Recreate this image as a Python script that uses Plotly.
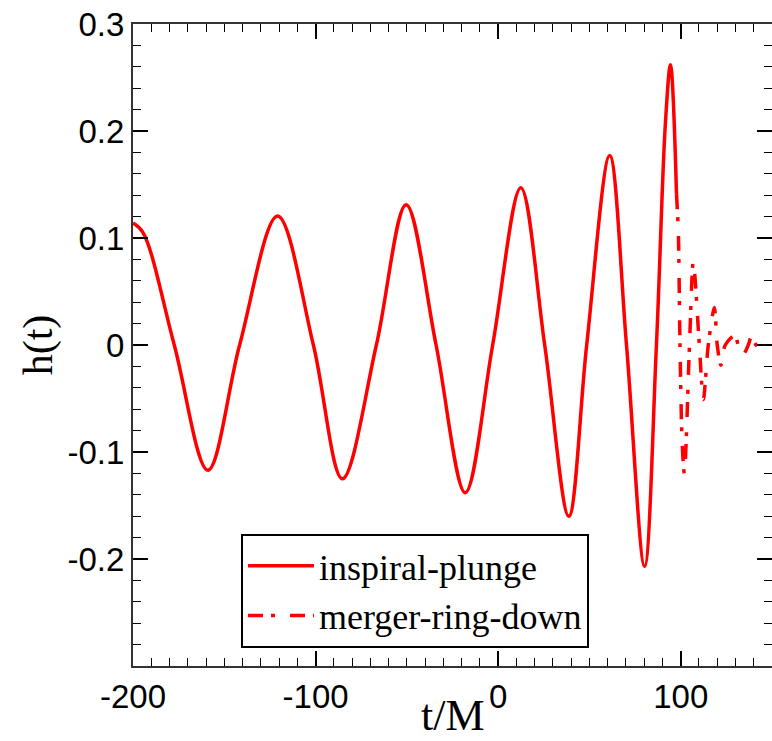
import plotly.graph_objects as go

# inspiral-plunge waveform (extrema and zero crossings)
t_inspiral = [-200, -194.5, -177.4, -159, -141.6, -120.8, -101.2, -85.3, -66.7,
              -50.4, -34, -18, -3, 12.4, 25.5, 38.7, 48.5, 61.1, 70.3, 80.2, 86.7,
              91.6, 94.4, 97.7]
h_inspiral = [0.114, 0.105, 0.0, -0.117, 0.0, 0.1206, 0.0, -0.125, 0.0,
              0.131, 0.0, -0.138, 0.0, 0.147, 0.0, -0.160, 0.0, 0.177, 0.0, -0.207, 0.0,
              0.207, 0.262, 0.141]

# merger-ring-down waveform
t_ringdown = [97.7, 98.7, 99.6, 100.8, 102.0, 104.8, 106.9, 110.2, 112.4, 115.1, 118.4,
              120.0, 122.0, 124.4, 129.7, 131.5, 134.2, 137.0, 138.6, 141.3, 143.5, 149.0]
h_ringdown = [0.141, 0.105, 0.0, -0.092, -0.120, 0.0, 0.078, 0.0, -0.051, 0.0, 0.035,
              0.0, -0.019, 0.0, 0.009, 0.0, -0.009, 0.0, 0.007, 0.0, -0.003, 0.002]

x_tick_vals = [-200, -100, 0, 100]
x_tick_text = ["-200", "-100", "0", "100"]
y_tick_vals = [-0.2, -0.1, 0, 0.1, 0.2, 0.3]
y_tick_text = ["-0.2", "-0.1", "0", "0.1", "0.2", "0.3"]

RED = "#ff0000"
SANS = "Liberation Sans, Arial, sans-serif"
SERIF = "Liberation Serif, Times New Roman, serif"

fig = go.Figure()
fig.add_trace(go.Scatter(
    x=t_inspiral, y=h_inspiral, mode="lines", name="inspiral-plunge",
    line=dict(color=RED, width=3.5, shape="spline", smoothing=1.0),
))
fig.add_trace(go.Scatter(
    x=t_ringdown, y=h_ringdown, mode="lines", name="merger-ring-down",
    line=dict(color=RED, width=3.5, shape="spline", smoothing=0.8,
              dash="15px,8px,4px,15px"),
))

axis_common = dict(
    showgrid=False, zeroline=False, automargin=False,
    showline=True, linecolor="#333333", linewidth=2, mirror="ticks",
    ticks="inside", ticklen=15, tickwidth=1.5, tickcolor="black",
    tickfont=dict(family=SANS, size=33, color="black"),
)

fig.update_layout(
    width=772, height=741,
    margin=dict(l=133, r=0, t=24, b=75),
    paper_bgcolor="white", plot_bgcolor="white",
    xaxis=dict(
        range=[-200, 150], tickmode="array", tickvals=x_tick_vals, ticktext=x_tick_text,
        minor=dict(dtick=10, ticks="inside", ticklen=8, tickwidth=1.2, tickcolor="black"),
        **axis_common,
    ),
    yaxis=dict(
        range=[-0.3, 0.3], tickmode="array", tickvals=y_tick_vals, ticktext=y_tick_text,
        minor=dict(dtick=0.02, ticks="inside", ticklen=8, tickwidth=1.2, tickcolor="black"),
        title=dict(text="h(t)", font=dict(family=SERIF, size=42, color="black"), standoff=2),
        **axis_common,
    ),
    legend=dict(
        x=0.169, y=0.206, xanchor="left", yanchor="top",
        bordercolor="black", borderwidth=2, bgcolor="white",
        font=dict(family=SERIF, size=36, color="black"),
        tracegroupgap=0, itemwidth=66,
    ),
    annotations=[dict(
        text="t/M", xref="paper", yref="paper", x=0.5, y=0,
        xanchor="center", yanchor="bottom", yshift=-76, showarrow=False,
        font=dict(family=SERIF, size=44, color="black"),
    )],
    showlegend=True,
)

fig.write_html("out.html")
